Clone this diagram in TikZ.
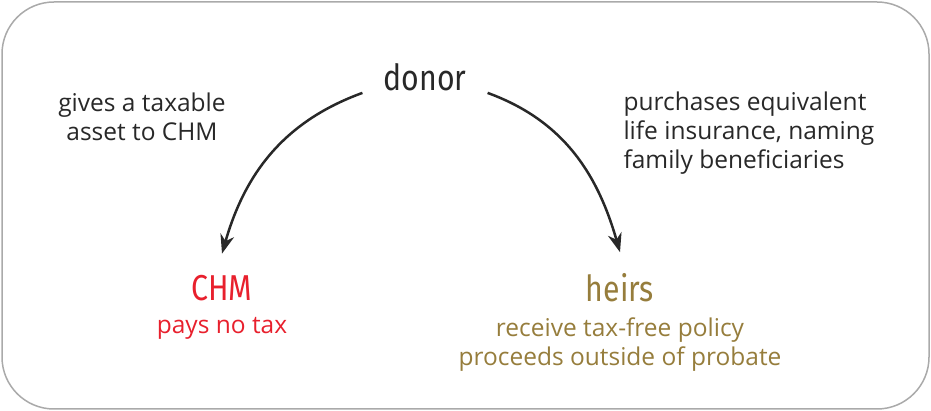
\documentclass[tikz,border=0pt]{standalone}
\usepackage{fontspec}
\setmainfont{Open Sans}
\newfontfamily\headfont{Fira Sans}[FakeStretch=0.84]
\usetikzlibrary{arrows.meta,positioning}
\definecolor{chmred}{RGB}{232,32,45}
\definecolor{heirgold}{RGB}{150,125,60}
\definecolor{textgray}{RGB}{40,40,40}
\definecolor{framegray}{RGB}{170,170,170}

\begin{document}
\begin{tikzpicture}[
		x=1pt, y=1pt,
		every node/.style={text=textgray},
		party/.style={font=\headfont\fontsize{36}{40}\selectfont},
		note/.style={font=\fontsize{24.5}{29}\selectfont, align=center},
		flow/.style={-{Stealth[length=19pt,width=14pt,inset=6pt]}, line width=2.5pt, draw=textgray}
	]
	\useasboundingbox (0,0) rectangle (931,411);
	\draw [framegray, line width=1.5pt, rounded corners=52pt] (2,2) rectangle (929,409);

	% parties
	\node [party, inner xsep=21pt, inner ysep=2pt] (donor) at (425,334) {donor};
	\node [party, text=chmred]                     (chm)   at (222,123) {CHM};
	\node [party, text=heirgold]                   (heirs) at (620,123) {heirs};

	% notes
	\node [note, text=chmred, below=9pt of chm]    (chmnote)  {pays no tax};
	\node [note, text=heirgold, below=8pt of heirs] (heirnote) {receive tax-free policy\\proceeds outside of probate};
	\node [note]                     (gift)   at (142,294.5) {gives a taxable\\asset to CHM};
	\node [note, align=left, anchor=west] (policy) at (620,277.5) {purchases equivalent\\life insurance, naming\\family beneficiaries};

	\draw [flow] (donor.south west) to[out=200, in=74]  ([yshift=18pt]chm.north);
	\draw [flow] (donor.south east) to[out=-20, in=106] ([yshift=18pt]heirs.north);
\end{tikzpicture}
\end{document}
